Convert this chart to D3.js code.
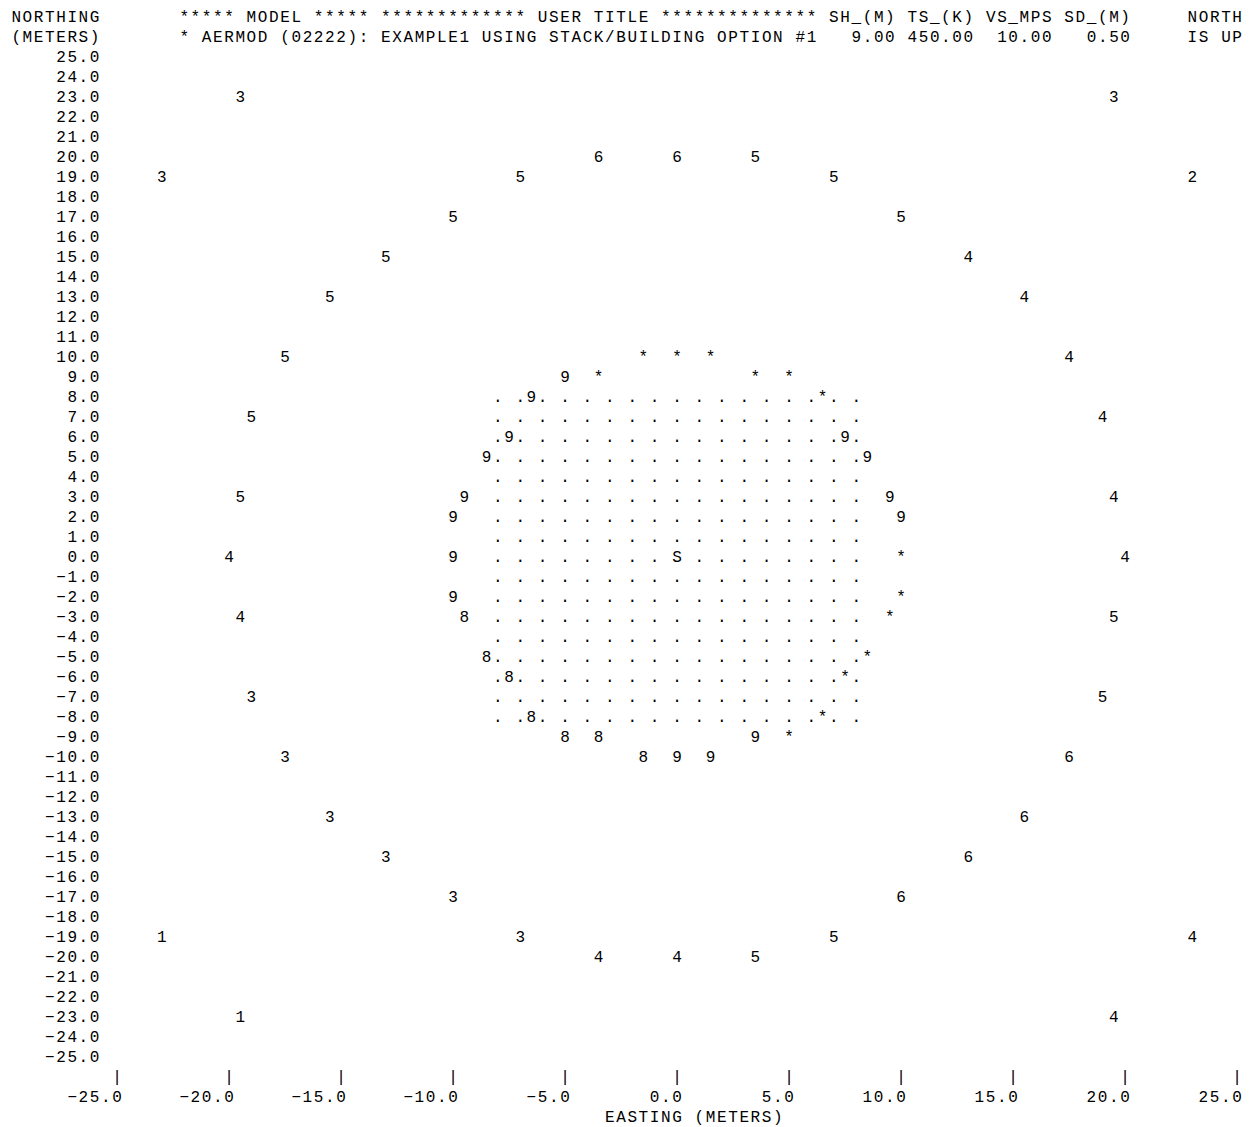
<!DOCTYPE html>
<html>
<head>
<meta charset="utf-8">
<script src="https://cdn.jsdelivr.net/npm/d3@7"></script>
<style>
  body { margin: 0; background: #fff; }
  text { font-family: "Courier New", "Liberation Mono", monospace; font-size: 16px; letter-spacing: 1.6px; fill: #000; white-space: pre; }
</style>
</head>
<body>
<script>
// header text of the printout
const header1 = "NORTHING       ***** MODEL ***** ************* USER TITLE ************** SH_(M) TS_(K) VS_MPS SD_(M)     NORTH";
const header2 = "(METERS)       * AERMOD (02222): EXAMPLE1 USING STACK/BUILDING OPTION #1   9.00 450.00  10.00   0.50     IS UP";
const xTitle = "EASTING (METERS)";

// tick labels
const xTicks = [-25, -20, -15, -10, -5, 0, 5, 10, 15, 20, 25];
const yTicks = [25, 24, 23, 22, 21, 20, 19, 18, 17, 16, 15, 14, 13, 12, 11, 10, 9, 8, 7, 6, 5, 4, 3, 2, 1, 0,
                -1, -2, -3, -4, -5, -6, -7, -8, -9, -10, -11, -12, -13, -14, -15, -16, -17, -18, -19, -20,
                -21, -22, -23, -24, -25];

// receptor grid (dots)
const gridX = [-8, -7, -6, -5, -4, -3, -2, -1, 0, 1, 2, 3, 4, 5, 6, 7, 8];
const gridY = [8, 7, 6, 5, 4, 3, 2, 1, 0, -1, -2, -3, -4, -5, -6, -7, -8];

// source
const srcX = [0];
const srcY = [0];
const srcSym = ["S"];

// ring at 10 m
const ring10X = [0, 1.5, 3.5, 5, 6.5, 7.5, 8.5, 9.5, 10, 10, 10, 9.5, 8.5, 7.5, 6.5, 5, 3.5, 1.5,
                 0, -1.5, -3.5, -5, -6.5, -7.5, -8.5, -9.5, -10, -10, -10, -9.5, -8.5, -7.5, -6.5, -5, -3.5, -1.5];
const ring10Y = [10, 10, 9, 9, 8, 6, 5, 3, 2, 0, -2, -3, -5, -6, -8, -9, -9, -10,
                 -10, -10, -9, -9, -8, -6, -5, -3, -2, 0, 2, 3, 5, 6, 8, 9, 9, 10];
const ring10Sym = ["*", "*", "*", "*", "*", "9", "9", "9", "9", "*", "*", "*", "*", "*", "*", "*", "9", "9",
                   "9", "8", "8", "8", "8", "8", "8", "8", "9", "9", "9", "9", "9", "9", "9", "9", "*", "*"];

// ring at 20 m
const ring20X = [0, 3.5, 7, 10, 13, 15.5, 17.5, 19, 19.5, 20, 19.5, 19, 17.5, 15.5, 13, 10, 7, 3.5,
                 0, -3.5, -7, -10, -13, -15.5, -17.5, -19, -19.5, -20, -19.5, -19, -17.5, -15.5, -13, -10, -7, -3.5];
const ring20Y = [20, 20, 19, 17, 15, 13, 10, 7, 3, 0, -3, -7, -10, -13, -15, -17, -19, -20,
                 -20, -20, -19, -17, -15, -13, -10, -7, -3, 0, 3, 7, 10, 13, 15, 17, 19, 20];
const ring20Sym = ["6", "5", "5", "5", "4", "4", "4", "4", "4", "4", "5", "5", "6", "6", "6", "6", "5", "5",
                   "4", "4", "3", "3", "3", "3", "3", "3", "4", "4", "5", "5", "5", "5", "5", "5", "5", "6"];

// ring at 30 m (only the points inside the frame)
const ring30X = [19.5, 23, 23, 19.5, -19.5, -23, -23, -19.5];
const ring30Y = [23, 19, -19, -23, -23, -19, 19, 23];
const ring30Sym = ["3", "2", "4", "4", "1", "1", "3", "3"];

const width = 1255, height = 1127;
const cw = 11.2;          // character cell width
const col0 = 10.6 + 0.8;  // left edge of first column (+ half of the letter spacing)
const base = 5.5;         // baseline offset from row centre

const x = d3.scaleLinear().domain([-25, 25]).range([117, 1237]);
const y = d3.scaleLinear().domain([25, -25]).range([56, 1056]);
const fmt = d3.format(".1f");

const svg = d3.select("body").append("svg")
    .attr("width", width)
    .attr("height", height);

// header lines
svg.append("text").attr("x", col0).attr("y", y(27) + base).text(header1);
svg.append("text").attr("x", col0).attr("y", y(26) + base).text(header2);

// y labels, right edge at column 7
const yEnd = col0 + 8 * cw;
svg.append("g").selectAll("text").data(yTicks).enter().append("text")
    .attr("x", (d) => {return yEnd - fmt(d).length * cw})
    .attr("y", (d) => {return y(d) + base})
    .text((d) => {return fmt(d)});

// x ticks and labels
const xAxis = svg.append("g");
xAxis.selectAll(".tick").data(xTicks).enter().append("text")
    .attr("class", "tick")
    .attr("x", (d) => {return x(d) - cw / 2 + 0.8})
    .attr("y", y(-26) + base)
    .text("|");
xAxis.selectAll(".lab").data(xTicks).enter().append("text")
    .attr("class", "lab")
    .attr("x", (d) => {return x(d) + cw / 2 + 0.8 - fmt(d).length * cw})
    .attr("y", y(-27) + base)
    .text((d) => {return fmt(d)});
svg.append("text")
    .attr("x", col0 + 53 * cw)
    .attr("y", y(-28) + base)
    .text(xTitle);

// symbols
const pts = [];
[[srcX, srcY, srcSym], [ring10X, ring10Y, ring10Sym], [ring20X, ring20Y, ring20Sym], [ring30X, ring30Y, ring30Sym]]
    .forEach(([xs, ys, ss]) => {
        xs.forEach((v, i) => {pts.push({x: v, y: ys[i], s: ss[i]})});
    });

const dots = [];
gridY.forEach((gy) => {
    gridX.forEach((gx) => {
        if (!pts.some((p) => {return p.x === gx && p.y === gy})) dots.push({x: gx, y: gy, s: "."});
    });
});

svg.append("g").selectAll("text").data(dots.concat(pts)).enter().append("text")
    .attr("x", (d) => {return x(d.x) - cw / 2 + 0.8})
    .attr("y", (d) => {return y(d.y) + base})
    .text((d) => {return d.s});
</script>
</body>
</html>
